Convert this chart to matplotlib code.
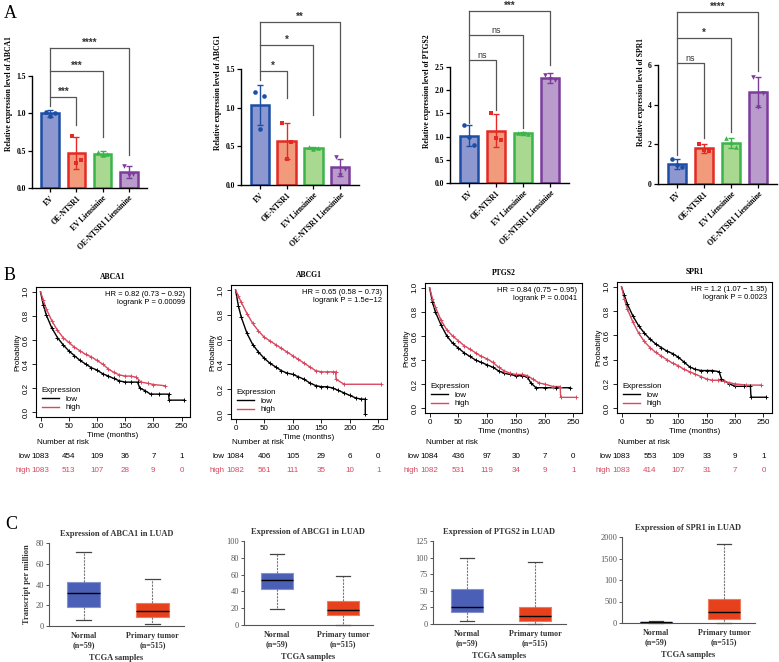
import numpy as np
import matplotlib
matplotlib.use('Agg')
import matplotlib.pyplot as plt
from matplotlib.transforms import blended_transform_factory

# ---- panel A: qPCR bars ----
groups = ['EV', 'OE-NTSR1', 'EV Liensinine', 'OE-NTSR1 Liensinine']

abca1_mean = [1.00, 0.47, 0.46, 0.22]
abca1_sd = [0.05, 0.21, 0.03, 0.08]
abca1_pts = [[1.02, 1.00, 0.97], [0.70, 0.37, 0.34], [0.48, 0.46, 0.44], [0.30, 0.19, 0.17]]
abca1_sig = ['***', '***', '****']

abcg1_mean = [1.03, 0.57, 0.48, 0.23]
abcg1_sd = [0.26, 0.23, 0.01, 0.11]
abcg1_pts = [[1.20, 1.15, 0.73], [0.80, 0.56, 0.34], [0.49, 0.48, 0.47], [0.36, 0.21, 0.13]]
abcg1_sig = ['*', '*', '**']

ptgs2_mean = [1.02, 1.13, 1.07, 2.26]
ptgs2_sd = [0.22, 0.35, 0.03, 0.10]
ptgs2_pts = [[1.24, 0.82, 1.00], [1.50, 0.93, 0.97], [1.08, 1.05, 1.08], [2.33, 2.22, 2.24]]
ptgs2_sig = ['ns', 'ns', '***']

spr1_mean = [1.02, 1.80, 2.08, 4.63]
spr1_sd = [0.26, 0.23, 0.25, 0.77]
spr1_pts = [[1.27, 0.85, 0.95], [2.02, 1.65, 1.72], [2.30, 1.85, 2.10], [5.38, 4.60, 3.90]]
spr1_sig = ['ns', '*', '****']

# ---- panel B: Kaplan-Meier (months, survival) ----
abca1_low_t = [0, 5, 10, 20, 30, 40, 50, 60, 70, 80, 90, 100, 110, 120, 130, 140, 150, 160, 172, 176, 185, 195, 210, 227, 228, 255]
abca1_low_s = [1.0, 0.89, 0.81, 0.70, 0.62, 0.56, 0.51, 0.47, 0.43, 0.40, 0.37, 0.35, 0.32, 0.30, 0.28, 0.26, 0.25, 0.25, 0.25, 0.20, 0.18, 0.15, 0.15, 0.15, 0.10, 0.10]
abca1_high_t = [0, 5, 10, 20, 30, 40, 50, 60, 70, 80, 90, 100, 110, 120, 130, 140, 150, 160, 170, 178, 190, 200, 220]
abca1_high_s = [1.0, 0.93, 0.86, 0.76, 0.68, 0.62, 0.58, 0.54, 0.51, 0.48, 0.46, 0.43, 0.40, 0.36, 0.33, 0.31, 0.30, 0.30, 0.29, 0.25, 0.24, 0.23, 0.22]

abcg1_low_t = [0, 5, 10, 20, 30, 40, 50, 60, 70, 80, 90, 100, 110, 120, 130, 140, 150, 160, 170, 180, 190, 200, 210, 220, 227, 227]
abcg1_low_s = [1.0, 0.87, 0.78, 0.65, 0.56, 0.50, 0.45, 0.41, 0.38, 0.35, 0.33, 0.32, 0.30, 0.28, 0.25, 0.23, 0.22, 0.22, 0.21, 0.19, 0.17, 0.15, 0.13, 0.12, 0.12, 0.0]
abcg1_high_t = [0, 5, 10, 20, 30, 40, 50, 60, 70, 80, 90, 100, 110, 120, 130, 140, 150, 160, 170, 175, 176, 190, 255]
abcg1_high_s = [1.0, 0.95, 0.90, 0.81, 0.73, 0.67, 0.62, 0.59, 0.56, 0.53, 0.50, 0.47, 0.44, 0.41, 0.38, 0.35, 0.34, 0.34, 0.34, 0.34, 0.28, 0.24, 0.24]

ptgs2_low_t = [0, 5, 10, 20, 30, 40, 50, 60, 70, 80, 90, 100, 110, 120, 130, 140, 150, 160, 170, 176, 185, 200, 220, 245]
ptgs2_low_s = [1.0, 0.88, 0.80, 0.69, 0.60, 0.54, 0.50, 0.46, 0.43, 0.40, 0.38, 0.36, 0.34, 0.31, 0.29, 0.28, 0.27, 0.27, 0.26, 0.21, 0.17, 0.17, 0.17, 0.17]
ptgs2_high_t = [0, 5, 10, 20, 30, 40, 50, 60, 70, 80, 90, 100, 110, 120, 130, 140, 150, 160, 170, 180, 190, 200, 215, 227, 228, 255]
ptgs2_high_s = [1.0, 0.91, 0.84, 0.73, 0.65, 0.60, 0.56, 0.52, 0.49, 0.46, 0.43, 0.41, 0.38, 0.34, 0.31, 0.29, 0.28, 0.28, 0.27, 0.24, 0.21, 0.20, 0.18, 0.18, 0.09, 0.09]

spr1_low_t = [0, 5, 10, 20, 30, 40, 50, 60, 70, 80, 90, 100, 110, 120, 130, 140, 150, 160, 172, 176, 190, 200, 215, 227, 228, 255]
spr1_low_s = [1.0, 0.93, 0.86, 0.76, 0.68, 0.62, 0.57, 0.53, 0.50, 0.47, 0.45, 0.42, 0.38, 0.34, 0.32, 0.31, 0.31, 0.31, 0.30, 0.24, 0.20, 0.18, 0.18, 0.18, 0.09, 0.09]
spr1_high_t = [0, 5, 10, 20, 30, 40, 50, 60, 70, 80, 90, 100, 110, 120, 130, 140, 150, 160, 170, 180, 190, 200, 220, 245]
spr1_high_s = [1.0, 0.90, 0.82, 0.71, 0.62, 0.55, 0.50, 0.46, 0.43, 0.40, 0.37, 0.35, 0.32, 0.30, 0.28, 0.26, 0.24, 0.23, 0.23, 0.22, 0.21, 0.20, 0.19, 0.19]

km_hr = ['HR = 0.82 (0.73 \u2212 0.92)', 'HR = 0.65 (0.58 \u2212 0.73)',
         'HR = 0.84 (0.75 \u2212 0.95)', 'HR = 1.2 (1.07 \u2212 1.35)']
km_p = ['logrank P = 0.00099', 'logrank P = 1.5e\u221212',
        'logrank P = 0.0041', 'logrank P = 0.0023']
risk_times = [0, 50, 100, 150, 200, 250]
abca1_risk_low = [1083, 454, 109, 36, 7, 1]
abca1_risk_high = [1083, 513, 107, 28, 9, 0]
abcg1_risk_low = [1084, 406, 105, 29, 6, 0]
abcg1_risk_high = [1082, 561, 111, 35, 10, 1]
ptgs2_risk_low = [1084, 436, 97, 30, 7, 0]
ptgs2_risk_high = [1082, 531, 119, 34, 9, 1]
spr1_risk_low = [1083, 553, 109, 33, 9, 1]
spr1_risk_high = [1083, 414, 107, 31, 7, 0]

# ---- panel C: TCGA boxplots (whislo, q1, med, q3, whishi) ----
abca1_normal = [6, 18, 31.5, 42, 71]
abca1_tumor = [1.5, 9, 14.5, 22, 45]
abcg1_normal = [19.5, 43, 53, 62.5, 85]
abcg1_tumor = [0.5, 12, 18, 28.5, 58]
ptgs2_normal = [4, 18, 25, 52, 99]
ptgs2_tumor = [0, 4, 12, 26, 94]
spr1_normal = [1, 5, 12, 20, 55]
spr1_tumor = [5, 100, 265, 555, 1830]
box_labels = ['Normal\n(n=59)', 'Primary tumor\n(n=515)']

genes = ['ABCA1', 'ABCG1', 'PTGS2', 'SPR1']

SERIF = 'Liberation Serif'
SANS = 'Liberation Sans'
W, H = 779, 662
fig = plt.figure(figsize=(W / 100, H / 100), dpi=100)


def box(l, t, r, b):
    return fig.add_axes([l / W, 1 - b / H, (r - l) / W, (b - t) / H])


# ---------------- A ----------------
edge_cols = ['#1d4ea6', '#e52a25', '#3bb44a', '#7b3c9b']
fill_cols = ['#8d97d0', '#f19a7c', '#a9d891', '#b99bcc']
markers = ['o', 's', '^', 'v']
jit = [-0.17, 0.17, 0.0]

a_data = [(abca1_mean, abca1_sd, abca1_pts, abca1_sig),
          (abcg1_mean, abcg1_sd, abcg1_pts, abcg1_sig),
          (ptgs2_mean, ptgs2_sd, ptgs2_pts, ptgs2_sig),
          (spr1_mean, spr1_sd, spr1_pts, spr1_sig)]
# (left px, right px, y0 px, top tick px, top tick value, tick step)
a_layout = [(32, 147, 188, 76, 1.5, 0.5), (241, 359, 185, 69, 1.5, 0.5),
            (450, 569, 183, 67, 2.5, 0.5), (658, 777, 184, 65, 6, 2)]
a_levels = [[1.22, 1.57, 1.875], [1.475, 1.81, 2.11], [2.65, 3.19, 3.71], [6.10, 7.36, 8.67]]
a_legs = [[0.84, 0.68, 0.44], [1.12, 0.90, 0.62], [1.57, 1.18, 2.54], [2.3, 2.6, 5.7]]
a_left_leg = [1.10, 1.36, 1.30, 1.45]

for k, (mean, sd, pts, sig) in enumerate(a_data):
    l, r, y0, ytp, yv, step = a_layout[k]
    ax = box(l, 0, r, y0)
    x = np.arange(4)
    ax.bar(x, mean, width=0.68, color=fill_cols, edgecolor=edge_cols, linewidth=1.8, zorder=2)
    for i in range(4):
        ax.errorbar(x[i], mean[i], yerr=sd[i], fmt='none', ecolor=edge_cols[i],
                    elinewidth=1, capsize=2.5, capthick=1, zorder=3)
        ax.scatter(x[i] + np.array(jit), pts[i], marker=markers[i], s=11,
                   color=edge_cols[i], zorder=4, linewidths=0)
    ymax = yv * y0 / (y0 - ytp)
    ax.set_ylim(0, ymax)
    ax.set_xlim(-0.7, 3.7)
    ticks = np.arange(0, yv + step / 2, step)
    ax.set_yticks(ticks)
    if step < 1:
        ax.set_yticklabels(['%.1f' % t for t in ticks])
    else:
        ax.set_yticklabels(['%d' % t for t in ticks])
    ax.spines['left'].set_bounds(0, yv)
    for s in ['top', 'right']:
        ax.spines[s].set_visible(False)
    for s in ['left', 'bottom']:
        ax.spines[s].set_linewidth(1.0)
    ax.set_xticks(x)
    ax.set_xticklabels(groups, rotation=45, ha='right', rotation_mode='anchor',
                       fontsize=5.5, fontweight='bold', family=SERIF)
    ax.tick_params(axis='both', length=3, width=0.9, pad=1.5)
    for lab in ax.get_yticklabels():
        lab.set_fontsize(5.5)
        lab.set_fontweight('bold')
        lab.set_family(SERIF)
    ax.set_ylabel('Relative expression level of ' + genes[k], fontsize=5.5,
                  fontweight='bold', family=SERIF, labelpad=2)
    ax.patch.set_alpha(0)
    # significance brackets
    top = a_levels[k][-1]
    ax.plot([0, 0], [a_left_leg[k], top], color='#555555', lw=0.9, zorder=1)
    for j in range(3):
        lev = a_levels[k][j]
        ax.plot([0, j + 1, j + 1], [lev, lev, a_legs[k][j]], color='#555555', lw=0.9, zorder=1)
        if sig[j] == 'ns':
            ax.text((j + 1) / 2, lev, 'ns', ha='center', va='bottom', fontsize=6.5,
                    family=SANS, color='#333333')
        else:
            ax.text((j + 1) / 2, lev, sig[j], ha='center', va='bottom', fontsize=7,
                    fontweight='bold', family=SANS, color='#333333')

# ---------------- B ----------------
RED = '#d8485f'
FS = 5.8
km_data = [(abca1_low_t, abca1_low_s, abca1_high_t, abca1_high_s, abca1_risk_low, abca1_risk_high),
           (abcg1_low_t, abcg1_low_s, abcg1_high_t, abcg1_high_s, abcg1_risk_low, abcg1_risk_high),
           (ptgs2_low_t, ptgs2_low_s, ptgs2_high_t, ptgs2_high_s, ptgs2_risk_low, ptgs2_risk_high),
           (spr1_low_t, spr1_low_s, spr1_high_t, spr1_high_s, spr1_risk_low, spr1_risk_high)]
b_layout = [(36, 287, 190, 417), (231, 285, 387, 419), (425, 283, 582, 413), (617, 282, 772, 413)]

for k, (lt, ls, ht, hs, rl, rh) in enumerate(km_data):
    l, t, r, b = b_layout[k]
    ax = box(l, t, r, b)
    ax.plot(lt, ls, color='black', lw=1.0, label='low')
    ax.plot(ht, hs, color=RED, lw=1.0, label='high')
    ax.plot(lt[1:], ls[1:], '+', color='black', ms=3, mew=0.7)
    ax.plot(ht[1:], hs[1:], '+', color=RED, ms=3, mew=0.7)
    ax.set_xlim(-8, 265)
    ax.set_ylim(-0.04, 1.04)
    ax.set_xticks(risk_times)
    ax.set_yticks(np.arange(0, 1.01, 0.2))
    ax.set_yticklabels(['%.1f' % v for v in np.arange(0, 1.01, 0.2)], rotation=90, va='center')
    ax.tick_params(axis='both', length=3, width=0.6, labelsize=FS, pad=1.5)
    for s in ax.spines.values():
        s.set_linewidth(0.8)
    for lab in ax.get_xticklabels() + ax.get_yticklabels():
        lab.set_family(SANS)
    ax.set_xlabel('Time (months)', fontsize=FS, family=SANS, labelpad=1)
    ax.set_ylabel('Probability', fontsize=FS, family=SANS, labelpad=1)
    ax.set_title(genes[k], fontsize=5.5, fontweight='bold', family=SERIF, pad=6)
    ax.text(0.97, 0.97, km_hr[k] + '\n' + km_p[k], transform=ax.transAxes, ha='right', va='top',
            fontsize=5.5, family=SANS, linespacing=1.15)
    leg = ax.legend(loc='lower left', frameon=False, title='Expression',
                    title_fontsize=FS, handlelength=2.2, borderaxespad=0.3,
                    labelspacing=0.1, alignment='left', prop={'family': SANS, 'size': FS})
    leg.get_title().set_family(SANS)
    tr = blended_transform_factory(ax.transData, fig.transFigure)
    fig.text((l + 1) / W, 1 - 443 / H, 'Number at risk', fontsize=FS, family=SANS, va='center')
    fig.text((l - 6) / W, 1 - 457 / H, 'low', fontsize=FS, family=SANS, va='center', ha='right')
    fig.text((l - 6) / W, 1 - 470 / H, 'high', fontsize=FS, family=SANS, va='center', ha='right', color=RED)
    for i, tt in enumerate(risk_times):
        ax.text(tt, 1 - 457 / H, str(rl[i]), transform=tr, fontsize=FS, family=SANS,
                ha='center', va='center')
        ax.text(tt, 1 - 470 / H, str(rh[i]), transform=tr, fontsize=FS, family=SANS,
                ha='center', va='center', color=RED)

# ---------------- C ----------------
c_data = [(abca1_normal, abca1_tumor), (abcg1_normal, abcg1_tumor),
          (ptgs2_normal, ptgs2_tumor), (spr1_normal, spr1_tumor)]
# (left px, spacing px, top px, bottom px, ymax, ticks, ticklabels)
c_layout = [(49, 69, 543, 626, 80, [0, 20, 40, 60, 80], None),
            (244, 66, 541, 625, 100, [0, 20, 40, 60, 80, 100], None),
            (433, 68, 541, 624, 125, [0, 25, 50, 75, 100, 125], None),
            (622, 68, 537, 623, 2000, [0, 500, 1000, 1500, 2000], ['0', '500', '100', '1500', '2000'])]
c_fill = ['#4a5fb5', '#e6401d']
c_edge = ['#8592cf', '#f07a5c']

for k, (nrm, tum) in enumerate(c_data):
    l, sp, t, b, ymax, ticks, tlabs = c_layout[k]
    ax = box(l, t, l + 1.95 * sp, b)
    stats = []
    for vals, lab in zip((nrm, tum), box_labels):
        stats.append(dict(whislo=vals[0], q1=vals[1], med=vals[2], q3=vals[3], whishi=vals[4], label=lab))
    bp = ax.bxp(stats, positions=[1, 2], widths=0.48, showfliers=False, patch_artist=True,
                capwidths=0.22,
                whiskerprops=dict(color='#777777', lw=0.8, linestyle=(0, (2, 1))),
                capprops=dict(color='#444444', lw=0.9),
                medianprops=dict(color='black', lw=1.0))
    for i, p in enumerate(bp['boxes']):
        p.set_facecolor(c_fill[i])
        p.set_edgecolor(c_edge[i])
        p.set_linewidth(0.8)
    for art in bp['whiskers'] + bp['caps'] + bp['medians'] + bp['boxes']:
        art.set_clip_on(False)
    ax.set_xlim(0.5, 2.45)
    ax.set_ylim(0, ymax)
    ax.set_yticks(ticks)
    if tlabs:
        ax.set_yticklabels(tlabs)
    for s in ['top', 'right']:
        ax.spines[s].set_visible(False)
    for s in ['left', 'bottom']:
        ax.spines[s].set_color('#555555')
        ax.spines[s].set_linewidth(0.8)
    ax.tick_params(axis='y', length=2.5, width=0.7, color='#555555', labelsize=6,
                   labelcolor='#555555', pad=1)
    ax.tick_params(axis='x', length=0, labelsize=5.8, pad=4)
    for lab in ax.get_yticklabels():
        lab.set_family(SERIF)
    for lab in ax.get_xticklabels():
        lab.set_family(SERIF)
        lab.set_fontweight('bold')
        lab.set_color('#333333')
    ax.set_xlabel('TCGA samples', fontsize=6, family=SERIF, fontweight='bold',
                  color='#333333', labelpad=4)
    ax.set_title('Expression of %s in LUAD' % genes[k], fontsize=6, family=SERIF,
                 fontweight='bold', color='#333333', pad=5)
    if k == 0:
        ax.set_ylabel('Transcript per million', fontsize=6, family=SERIF,
                      fontweight='bold', color='#333333', labelpad=3)

# panel letters
fig.text(4 / W, 1 - 18 / H, 'A', fontsize=13, family=SERIF)
fig.text(4 / W, 1 - 280 / H, 'B', fontsize=13, family=SERIF)
fig.text(5 / W, 1 - 529 / H, 'C', fontsize=13, family=SERIF)

fig.savefig('out.png', dpi=100)
